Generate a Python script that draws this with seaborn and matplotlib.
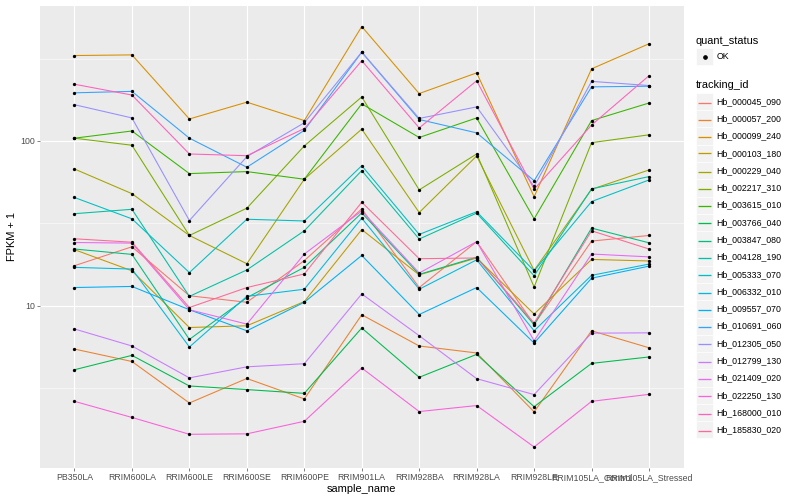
import numpy as np
import pandas as pd
import seaborn as sns
import matplotlib.pyplot as plt
from matplotlib.lines import Line2D
from matplotlib.patches import Rectangle

# samples on the x axis
samples = ['PB350LA', 'RRIM600LA', 'RRIM600LE', 'RRIM600SE', 'RRIM600PE', 'RRIM901LA',
           'RRIM928BA', 'RRIM928LA', 'RRIM928LE', 'RRIM105LA_Control', 'RRIM105LA_Stressed']

# FPKM + 1 for every tracking id, one value per sample
hb_000045_090 = [17.5, 22.8, 11.5, 10.5, 18.8, 38.7, 12.9, 24.5, 7.7, 24.7, 26.7]
hb_000057_200 = [5.46, 4.59, 2.57, 3.62, 2.72, 8.82, 5.70, 5.17, 2.27, 7.05, 5.56]
hb_000099_240 = [330, 333, 136, 172, 133, 495, 194, 259, 45.9, 274, 389]
hb_000103_180 = [21.9, 16.3, 7.38, 7.56, 10.6, 29.0, 15.4, 19.5, 8.91, 19.1, 18.7]
hb_000229_040 = [67.6, 47.9, 26.7, 18.0, 58.6, 118, 36.8, 81.1, 16.4, 50.9, 66.7]
hb_002217_310 = [104, 94.2, 26.7, 39.1, 93.3, 185, 50.5, 83.4, 13.0, 97.7, 109]
hb_003615_010 = [104, 115, 63.4, 65.2, 58.6, 168, 105, 138, 33.7, 133, 170]
hb_003766_040 = [4.09, 5.0, 3.26, 3.10, 2.94, 7.33, 3.68, 5.07, 2.44, 4.47, 4.89]
hb_003847_080 = [22.1, 20.5, 6.25, 11.2, 17.1, 36.6, 15.5, 19.7, 7.67, 29.6, 24.1]
hb_004128_190 = [36.2, 38.5, 11.4, 16.5, 28.5, 66.1, 25.4, 36.5, 15.2, 51.2, 60.8]
hb_005333_070 = [45.4, 33.7, 15.9, 33.5, 32.7, 70.8, 27.1, 37.2, 16.3, 42.9, 58.0]
hb_006332_010 = [17.1, 16.7, 5.62, 11.4, 12.6, 34.0, 12.6, 19.0, 7.05, 15.3, 17.9]
hb_009557_070 = [12.9, 13.1, 9.46, 7.05, 10.5, 20.2, 8.85, 12.9, 5.94, 14.7, 17.4]
hb_010691_060 = [196, 200, 104, 69.3, 116, 346, 135, 112, 57.4, 213, 215]
hb_012305_050 = [166, 138, 32.9, 80.3, 129, 346, 137, 161, 53, 230, 217]
hb_012799_130 = [7.23, 5.70, 3.65, 4.26, 4.45, 11.8, 6.58, 3.61, 2.89, 6.82, 6.85]
hb_021409_020 = [24.2, 24.0, 9.46, 7.74, 20.6, 37.6, 15.8, 24.5, 6.13, 20.6, 19.8]
hb_022250_130 = [2.63, 2.10, 1.66, 1.67, 1.99, 4.19, 2.28, 2.48, 1.39, 2.63, 2.90]
hb_168000_010 = [221, 190, 83.4, 81.4, 119, 307, 120, 232, 51, 125, 249]
hb_185830_020 = [25.5, 24.3, 9.76, 12.9, 15.6, 42.5, 19.3, 19.5, 7.86, 28.5, 22.1]

tracking_ids = ['Hb_000045_090', 'Hb_000057_200', 'Hb_000099_240', 'Hb_000103_180',
                'Hb_000229_040', 'Hb_002217_310', 'Hb_003615_010', 'Hb_003766_040',
                'Hb_003847_080', 'Hb_004128_190', 'Hb_005333_070', 'Hb_006332_010',
                'Hb_009557_070', 'Hb_010691_060', 'Hb_012305_050', 'Hb_012799_130',
                'Hb_021409_020', 'Hb_022250_130', 'Hb_168000_010', 'Hb_185830_020']
series = [hb_000045_090, hb_000057_200, hb_000099_240, hb_000103_180, hb_000229_040,
          hb_002217_310, hb_003615_010, hb_003766_040, hb_003847_080, hb_004128_190,
          hb_005333_070, hb_006332_010, hb_009557_070, hb_010691_060, hb_012305_050,
          hb_012799_130, hb_021409_020, hb_022250_130, hb_168000_010, hb_185830_020]

rows = []
for tid, vals in zip(tracking_ids, series):
    for s, v in zip(samples, vals):
        rows.append({'tracking_id': tid, 'sample_name': s, 'fpkm1': v, 'quant_status': 'OK'})
df = pd.DataFrame(rows)


# ggplot-like hue palette (polar LUV -> sRGB)
def hue_pal(n, c=100, l=65):
    cols = []
    for h in 15 + 360.0 / n * np.arange(n):
        hr = np.deg2rad(h % 360)
        u, v = c * np.cos(hr), c * np.sin(hr)
        Y = ((l + 16) / 116) ** 3
        up = u / (13 * l) + 0.1978398
        vp = v / (13 * l) + 0.4683363
        X = Y * 9 * up / (4 * vp)
        Z = Y * (12 - 3 * up - 20 * vp) / (4 * vp)
        M = np.array([[3.240479, -1.537150, -0.498535],
                      [-0.969256, 1.875992, 0.041556],
                      [0.055648, -0.204043, 1.057311]])
        lin = M @ np.array([X, Y, Z])
        rgb = np.where(lin <= 0.0031308, 12.92 * lin, 1.055 * np.abs(lin) ** (1 / 2.4) - 0.055)
        cols.append(tuple(np.clip(rgb, 0, 1)))
    return cols


pal = hue_pal(len(tracking_ids))

plt.rcParams['font.family'] = ['Liberation Sans', 'DejaVu Sans']

W, H = 800, 500
fig = plt.figure(figsize=(W / 72, H / 72), dpi=72)
px_l, px_r, px_t, px_b = 40, 683.5, 5.5, 468
ax = fig.add_axes([px_l / W, 1 - px_b / H, (px_r - px_l) / W, (px_b - px_t) / H])
ax.set_facecolor('#EBEBEB')

sns.lineplot(data=df, x='sample_name', y='fpkm1', hue='tracking_id', hue_order=tracking_ids,
             palette=pal, estimator=None, sort=False, linewidth=1.07, legend=False, ax=ax, zorder=2)
sns.scatterplot(data=df, x='sample_name', y='fpkm1', color='black', s=11, linewidth=0,
                legend=False, ax=ax, zorder=3)

ax.set_yscale('log')
lo, hi = np.log10(df['fpkm1'].min()), np.log10(df['fpkm1'].max())
pad = 0.05 * (hi - lo)
ax.set_ylim(10 ** (lo - pad), 10 ** (hi + pad))
ax.set_xlim(-0.6, len(samples) - 0.4)

ax.set_yticks([10, 100])
ax.set_yticklabels(['10', '100'])
ax.set_yticks([10 ** 0.5, 10 ** 1.5, 10 ** 2.5], minor=True)
ax.set_yticklabels([], minor=True)
ax.set_xticks(range(len(samples)))
ax.set_xticklabels(samples)

ax.grid(which='major', color='white', linewidth=1.1)
ax.grid(which='minor', axis='y', color='white', linewidth=0.55)
ax.set_axisbelow(True)
for sp in ax.spines.values():
    sp.set_visible(False)
ax.tick_params(which='major', length=2.75, width=0.6, color='#333333', pad=2.2,
               labelsize=8.8, labelcolor='#4D4D4D')
ax.tick_params(which='minor', length=0)

ax.set_xlabel('sample_name', fontsize=11)
ax.set_ylabel('FPKM + 1', fontsize=11)
ax.xaxis.set_label_coords(0.5, (px_b - 484) / (px_b - px_t))
ax.yaxis.set_label_coords((17 - px_l) / (px_r - px_l), 0.5)


# legend drawn in figure pixels, ggplot style
def fx(x):
    return x / W


def fy(y):
    return 1 - y / H


key = 17.28
kx = 696
fig.text(fx(kx), fy(40.7), 'quant_status', fontsize=11, va='center', ha='left')
fig.add_artist(Rectangle((fx(kx), fy(48.2 + key)), key / W, key / H, facecolor='#F2F2F2',
                         edgecolor='white', linewidth=0.6, transform=fig.transFigure))
fig.add_artist(Line2D([fx(kx + key / 2)], [fy(56.8)], marker='o', markersize=3.6,
                      color='black', linestyle='none', transform=fig.transFigure))
fig.text(fx(kx + key + 3), fy(56.8), 'OK', fontsize=8.8, va='center', ha='left')

fig.text(fx(kx), fy(85.3), 'tracking_id', fontsize=11, va='center', ha='left')
for i, (tid, col) in enumerate(zip(tracking_ids, pal)):
    yc = 101.5 + key * i
    yl = round(yc) + 0.5  # snap swatch line to a pixel row so it stays crisp
    fig.add_artist(Rectangle((fx(kx), fy(yc + key / 2)), key / W, key / H, facecolor='#F2F2F2',
                             edgecolor='white', linewidth=0.6, transform=fig.transFigure))
    fig.add_artist(Line2D([fx(kx + 2), fx(kx + key - 2)], [fy(yl), fy(yl)], color=col,
                          linewidth=1.3, solid_capstyle='butt', transform=fig.transFigure))
    fig.text(fx(kx + key + 3), fy(yc), tid, fontsize=8.8, va='center', ha='left')

fig.savefig('out.png', dpi=72, facecolor='white')
